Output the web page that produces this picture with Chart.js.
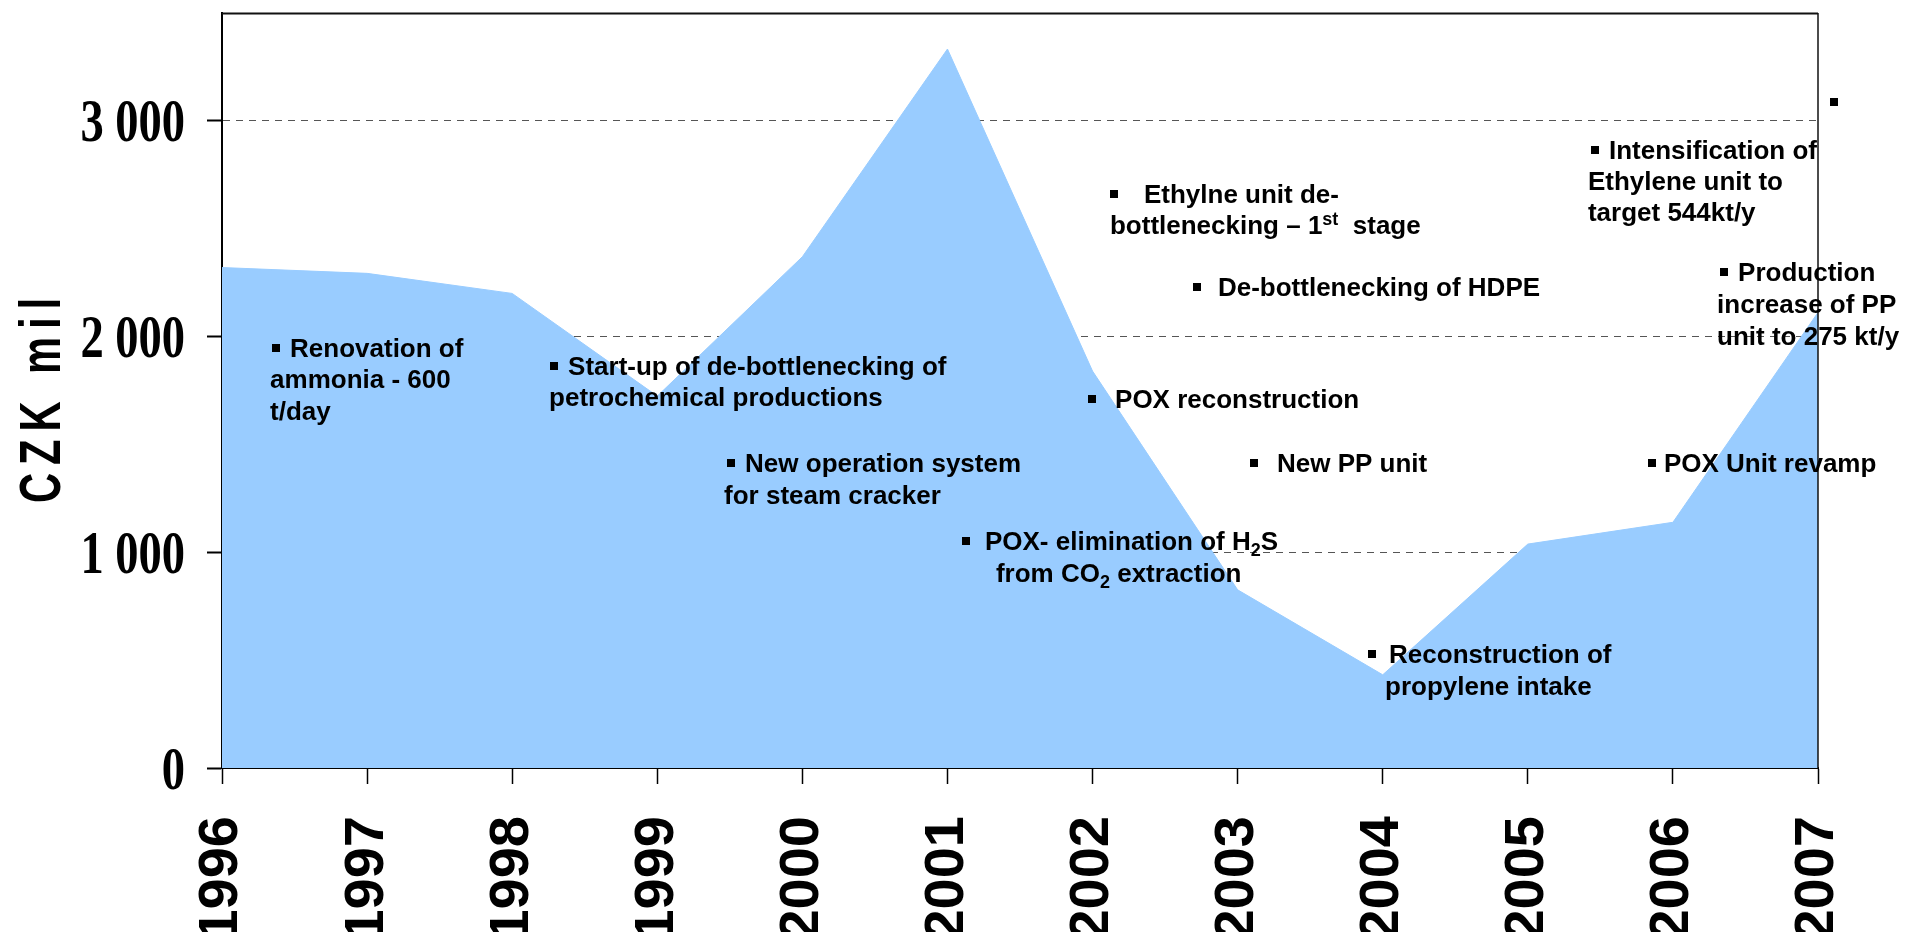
<!DOCTYPE html>
<html>
<head>
<meta charset="utf-8">
<script src="https://cdn.jsdelivr.net/npm/chart.js@4.4.1/dist/chart.umd.min.js"></script>
<style>
  html, body { margin: 0; padding: 0; background: #fff; overflow: hidden; }
  #wrap { width: 1906px; height: 932px; }
</style>
</head>
<body>
<div id="wrap"><canvas id="capex" width="1906" height="932"></canvas></div>
<script>
// investments per year, CZK mil
const years = ['1996', '1997', '1998', '1999', '2000', '2001', '2002', '2003', '2004', '2005', '2006', '2007'];
const capex = [2320, 2293, 2200, 1724, 2370, 3333, 1840, 826, 432, 1038, 1139, 2112];
const yTicks = [0, 1000, 2000, 3000];
const yTitle = 'CZK mil';

// project notes, one entry per bullet; '_x' = subscript, '^x' = superscript
const notes = [
  [['Renovation of'], ['ammonia - 600'], ['t/day']],
  [['Start-up of de-bottlenecking of'], ['petrochemical productions']],
  [['New operation system'], ['for steam cracker']],
  [['POX- elimination of H', '_2', 'S'], ['from CO', '_2', ' extraction']],
  [['Ethylne unit de-'], ['bottlenecking \u2013 1', '^st', '  stage']],
  [['De-bottlenecking of HDPE']],
  [['POX reconstruction']],
  [['New PP unit']],
  [['Reconstruction of'], ['propylene intake']],
  [['Intensification of'], ['Ethylene unit to'], ['target 544kt/y']],
  [['Production'], ['increase of PP'], ['unit to 275 kt/y']],
  [['POX Unit revamp']],
  [['']]
];

// where each note sits: bullet anchor in axis units, text offset, extra lines offsets (px)
const noteLayout = [
  { at: [1996.345, 1903], dx: 18, rest: [[-2, 31], [-2, 63]] },
  { at: [1998.261, 1820], dx: 18, rest: [[-1, 31]] },
  { at: [1999.481, 1374], dx: 18, rest: [[-3, 32]] },
  { at: [2001.100, 1012], dx: 23, rest: [[34, 32]] },
  { at: [2002.120, 2618], dx: 34, rest: [[0, 31]] },
  { at: [2002.692, 2187], dx: 25, rest: [] },
  { at: [2001.969, 1671], dx: 27, rest: [] },
  { at: [2003.085, 1374], dx: 27, rest: [] },
  { at: [2003.899, 487], dx: 21, rest: [[17, 32]] },
  { at: [2005.435, 2823], dx: 18, rest: [[-3, 31], [-3, 62]] },
  { at: [2006.325, 2256], dx: 18, rest: [[-3, 32], [-3, 64]] },
  { at: [2005.828, 1370], dx: 16, rest: [] },
  { at: [2007.083, 3045], dx: 0, rest: [] }
];

const SANS = '"Liberation Sans", Arial, sans-serif';
const SERIF = '"Liberation Serif", "Times New Roman", serif';
const NOTE_FONT = 'bold 26px ' + SANS;
const SMALL_FONT = 'bold 18px ' + SANS;

function fmtThousands(v) {
  return String(v).replace(/\B(?=(\d{3})+(?!\d))/g, ' ');
}

function drawLine(ctx, x, y, segs) {
  let cx = x;
  segs.forEach(s => {
    if (s[0] === '_' || s[0] === '^') {
      ctx.font = SMALL_FONT;
      const t = s.slice(1);
      ctx.fillText(t, cx, s[0] === '_' ? y + 6 : y - 9);
      cx += ctx.measureText(t).width;
    } else {
      ctx.font = NOTE_FONT;
      ctx.fillText(s, cx, y);
      cx += ctx.measureText(s).width;
    }
  });
}

// frame, y labels, y title and the project notes
const extras = {
  id: 'extras',
  afterDatasetsDraw(chart) {
    const { ctx, chartArea: a } = chart;
    ctx.save();
    ctx.strokeStyle = '#111';
    ctx.lineWidth = 2;
    ctx.beginPath();
    ctx.moveTo(a.left, a.top + 0.5);
    ctx.lineTo(a.right, a.top + 0.5);
    ctx.stroke();
    ctx.lineWidth = 1.5;
    ctx.beginPath();
    ctx.moveTo(a.right, a.top);
    ctx.lineTo(a.right, a.bottom);
    ctx.stroke();
    ctx.restore();
  },
  afterDraw(chart) {
    const { ctx, chartArea: a } = chart;
    const xs = chart.scales.x, ys = chart.scales.y;
    ctx.save();
    ctx.fillStyle = '#000';

    // y tick labels, condensed serif
    ctx.font = 'bold 62px ' + SERIF;
    ctx.textAlign = 'right';
    ctx.textBaseline = 'alphabetic';
    ys.ticks.forEach(t => {
      ctx.save();
      ctx.translate(ys.right - 37, ys.getPixelForValue(t.value) + 20.5);
      ctx.scale(0.75, 1);
      ctx.fillText(fmtThousands(t.value), 0, 0);
      ctx.restore();
    });

    // y title
    ctx.save();
    ctx.translate(60, (a.top + a.bottom) / 2 + 6);
    ctx.rotate(-Math.PI / 2);
    ctx.scale(0.72, 1);
    ctx.font = 'bold 58px ' + SANS;
    ctx.letterSpacing = '11px';
    ctx.textAlign = 'center';
    ctx.fillText(yTitle, 0, 0);
    ctx.restore();

    // notes
    ctx.textAlign = 'left';
    notes.forEach((lines, i) => {
      const L = noteLayout[i];
      const bx = xs.getPixelForValue(L.at[0] - Number(years[0]));
      const by = ys.getPixelForValue(L.at[1]);
      ctx.fillRect(Math.round(bx), Math.round(by) - 13, 8, 8);
      lines.forEach((segs, j) => {
        if (j === 0) drawLine(ctx, bx + L.dx, by, segs);
        else drawLine(ctx, bx + L.rest[j - 1][0], by + L.rest[j - 1][1], segs);
      });
    });
    ctx.restore();
  }
};

new Chart(document.getElementById('capex'), {
  type: 'line',
  data: {
    labels: years,
    datasets: [{
      data: capex,
      fill: 'origin',
      backgroundColor: '#99CCFF',
      borderColor: '#99CCFF',
      borderWidth: 1,
      pointRadius: 0,
      tension: 0
    }]
  },
  options: {
    responsive: false,
    animation: false,
    devicePixelRatio: 1,
    layout: { padding: { top: 13, right: 88, left: 0, bottom: 0 } },
    plugins: { legend: { display: false }, tooltip: { enabled: false } },
    scales: {
      x: {
        offset: false,
        afterFit: s => { s.height = 164; s.paddingLeft = 0; s.paddingRight = 0; },
        grid: {
          offset: false,
          drawOnChartArea: false,
          drawTicks: true,
          tickLength: 16,
          tickColor: '#000',
          tickWidth: 1.5
        },
        border: { color: '#000', width: 2 },
        ticks: {
          autoSkip: false,
          minRotation: 90,
          maxRotation: 90,
          padding: 32,
          color: '#000',
          font: { family: SANS, size: 56, weight: 'bold' }
        }
      },
      y: {
        min: 0,
        max: 3500,
        afterFit: s => { s.width = 222; },
        afterBuildTicks: s => { s.ticks = yTicks.map(v => ({ value: v })); },
        grid: {
          color: '#555',
          lineWidth: 1,
          drawTicks: true,
          tickLength: 15,
          tickColor: '#000',
          tickWidth: 2,
          tickBorderDash: []
        },
        border: { color: '#000', width: 2, dash: [7, 6] },
        ticks: { display: false }
      }
    }
  },
  plugins: [extras]
});
</script>
</body>
</html>
